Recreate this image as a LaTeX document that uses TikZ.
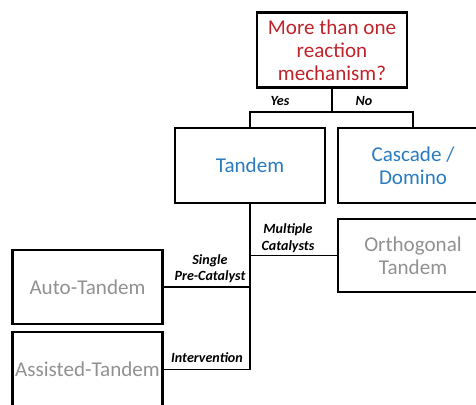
\documentclass[tikz,border=0pt]{standalone}
\usepackage{fontspec}
\setmainfont{Carlito}
\usetikzlibrary{calc}
\definecolor{redQuestion}{HTML}{C0232A}
\definecolor{blueType}{HTML}{2B7BBF}
\definecolor{graySub}{HTML}{919191}
\begin{document}
\begin{tikzpicture}[x=0.02cm,y=-0.02cm]

		\tikzset{
            box/.style={
                draw=black,
                line width=1.5pt,
                minimum width=3cm,
                minimum height=1.5cm,
                align=center,
                inner sep=0pt,
                font=\fontsize{12}{13.2}\selectfont
            },
            branch/.style={
                font=\fontsize{8}{9.3}\selectfont\bfseries\itshape,
                align=center,
                inner sep=0pt
            },
            link/.style={line width=0.8pt}
        }

        \useasboundingbox (0,0) rectangle (476,405);

        % question and first split
        \node[box, text=redQuestion] (question) at (332,50) {More than one\\reaction\\mechanism?};
        \node[box, text=blueType] (tandem) at (250,165.5) {Tandem};
        \node[box, text=blueType] (cascade) at (413,165.5) {Cascade /\\Domino};
        \coordinate (split) at (332,112);

        \draw[link] (question.south) -- (split);
        \draw[link] (tandem.north) |- (split) -| (cascade.north);

        \node[branch] (yes) at (280,101) {Yes};
        \node[branch] (no) at (364,101) {No};

        % tandem subtypes
        \node[box, text=graySub, minimum height=1.46cm] (ortho) at (413,255.5) {Orthogonal\\Tandem};
        \node[box, text=graySub, minimum height=1.48cm] (auto) at (87.5,287) {Auto-Tandem};
        \node[box, text=graySub] (assisted) at (87.5,369.5) {Assisted-Tandem};

        \draw[link] (tandem.south) -- (tandem.south |- assisted.east) -- (assisted.east);
        \draw[link] (auto.east) -- (auto.east -| tandem.south);
        \draw[link] (ortho.west) -- (ortho.west -| tandem.south);

        \node[branch] (multiple) at (288,238) {Multiple\\Catalysts};
        \node[branch] (single) at (210,269) {Single\\Pre-Catalyst};
        \node[branch] (intervention) at (207,358) {Intervention};

\end{tikzpicture}
\end{document}
